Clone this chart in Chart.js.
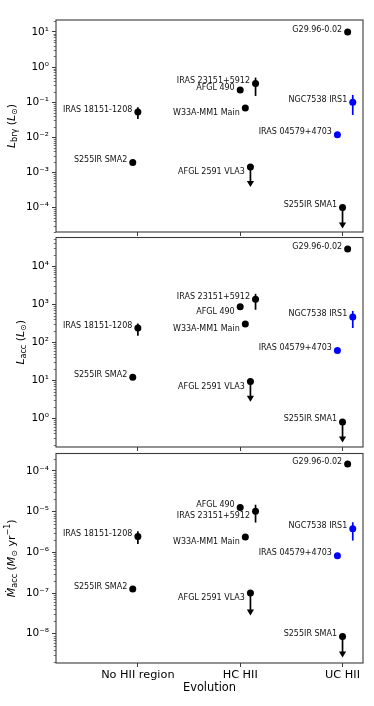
<!DOCTYPE html>
<html><head><meta charset="utf-8">
<script src="https://cdn.jsdelivr.net/npm/chart.js@4.4.1/dist/chart.umd.min.js"></script>
<style>
html,body{margin:0;padding:0;background:#fff;width:374px;height:706px;overflow:hidden;position:relative}
canvas{position:absolute;left:0}
</style></head><body>
<canvas id="c1" style="top:0px;width:374px;height:236px" width="374" height="236"></canvas>
<canvas id="c2" style="top:234px;width:374px;height:217px" width="374" height="217"></canvas>
<canvas id="c3" style="top:450px;width:374px;height:256px" width="374" height="256"></canvas>
<script>
// ---------------- DATA ----------------
const categories = ['No HII region', 'HC HII', 'UC HII'];
const categoryTicks = [1, 2, 3];
const sources = ['S255IR SMA2', 'IRAS 18151-1208', 'AFGL 490', 'W33A-MM1 Main', 'AFGL 2591 VLA3',
                 'IRAS 23151+5912', 'IRAS 04579+4703', 'S255IR SMA1', 'G29.96-0.02', 'NGC7538 IRS1'];
// evolutionary stage (with small dodge as in the figure)
const stage = [0.95, 1.0, 2.0, 2.05, 2.1, 2.15, 2.95, 3.0, 3.05, 3.1];
const sampleGroup = ['a','a','a','a','a','a','b','a','a','b'];   // b = blue sources
const upperLimit = [false,false,false,false,true,false,false,true,false,false];

// L_brgamma (L_sun)
const lbrg      = [0.0019, 0.052, 0.22, 0.068, 0.00143, 0.34, 0.0117, 1.0e-4, 10, 0.10];
const lbrgLo    = [null, 0.033, null, null, null, 0.15, null, null, null, 0.043];
const lbrgHi    = [null, 0.072, null, null, null, 0.50, null, null, null, 0.16];
const lbrgLim   = [null, null, null, null, 0.00038, null, null, 2.5e-5, null, null];

// L_acc (L_sun)
const lacc      = [12, 234, 850, 300, 9.2, 1330, 60, 0.80, 28000, 460];
const laccLo    = [null, 148, null, null, null, 710, null, null, null, 235];
const laccHi    = [null, 310, null, null, null, 1860, null, null, null, 660];
const laccLim   = [null, null, null, null, 2.7, null, null, 0.23, null, null];

// Mdot_acc (M_sun / yr)
const macc      = [1.25e-7, 2.45e-6, 1.27e-5, 2.37e-6, 1.0e-7, 1.02e-5, 8.2e-7, 8.6e-9, 1.48e-4, 3.8e-6];
const maccLo    = [null, 1.6e-6, null, null, null, 5.4e-6, null, null, null, 1.95e-6];
const maccHi    = [null, 3.3e-6, null, null, null, 1.48e-5, null, null, null, 5.5e-6];
const maccLim   = [null, null, null, null, 2.8e-8, null, null, 2.6e-9, null, null];

// axis ranges (log10)
const lbrgRange = [-4.70, 1.34];
const laccRange = [-0.757, 4.75];
const maccRange = [-8.72, -3.57];

// label placement (style): 'u' = beside/above, 'd' = below
const lbrgPlace = ['u','u','u','d','d','u','u','u','u','u'];
const laccPlace = ['u','u','d','d','d','u','u','u','u','u'];
const maccPlace = ['u','u','u','d','d','d','u','u','u','u'];

// ---------------- STYLE / DRAWING ----------------
const COLORS = {a: '#000000', b: '#0000ff'};
const FRAME = '#3a3a3a';
const FONT = 'DejaVu Sans';
const SUP = {'0':'⁰','1':'¹','2':'²','3':'³','4':'⁴','5':'⁵','6':'⁶','7':'⁷','8':'⁸','9':'⁹','-':'⁻'};
function powLabel(v){
  const n = Math.round(Math.log10(v));
  return '10' + String(n).split('').map(c => SUP[c]).join('');
}

function drawRich(ctx, segs, bx, cy){
  const main = 11, small = 8;
  const fontOf = s => (s.it ? 'italic ' : '') + ((s.sub || s.sup) ? small : main) + 'px "' + FONT + '"';
  let total = 0;
  segs.forEach(s => { ctx.font = fontOf(s); s.w = ctx.measureText(s.t).width; total += s.w; });
  ctx.save();
  ctx.translate(bx, cy);
  ctx.rotate(-Math.PI/2);
  ctx.fillStyle = '#000';
  ctx.textBaseline = 'alphabetic';
  ctx.textAlign = 'left';
  let x = -total/2;
  segs.forEach(s => {
    ctx.font = fontOf(s);
    const dy = s.sub ? 2.8 : (s.sup ? -4.2 : 0);
    ctx.fillText(s.t, x, dy);
    x += s.w;
  });
  ctx.restore();
}

function makePanel(id, cfg){
  const n = sources.length;
  const pts = sources.map((s, i) => ({x: stage[i], y: cfg.values[i]}));
  const colors = sampleGroup.map(g => COLORS[g]);

  const panelPlugin = {
    id: 'panel_' + id,
    beforeDatasetsDraw(chart){
      const ctx = chart.ctx, xs = chart.scales.x, ys = chart.scales.y;
      ctx.save();
      for (let i = 0; i < n; i++){
        const px = xs.getPixelForValue(stage[i]);
        const py = ys.getPixelForValue(cfg.values[i]);
        ctx.strokeStyle = colors[i]; ctx.fillStyle = colors[i];
        ctx.lineWidth = 1.7;
        if (cfg.lo[i] !== null){
          ctx.beginPath();
          ctx.moveTo(px, ys.getPixelForValue(cfg.hi[i]));
          ctx.lineTo(px, ys.getPixelForValue(cfg.lo[i]));
          ctx.stroke();
        }
        if (upperLimit[i]){
          const tip = ys.getPixelForValue(cfg.lim[i]);
          ctx.beginPath();
          ctx.moveTo(px, py);
          ctx.lineTo(px, tip - 4);
          ctx.stroke();
          ctx.beginPath();
          ctx.moveTo(px - 3.6, tip - 6);
          ctx.lineTo(px + 3.6, tip - 6);
          ctx.lineTo(px, tip);
          ctx.closePath();
          ctx.fill();
        }
      }
      ctx.restore();
    },
    afterDatasetsDraw(chart){
      const ctx = chart.ctx, xs = chart.scales.x, ys = chart.scales.y;
      ctx.save();
      ctx.font = '8px "' + FONT + '"';
      ctx.fillStyle = '#111';
      ctx.textAlign = 'right';
      ctx.textBaseline = 'middle';
      for (let i = 0; i < n; i++){
        const px = xs.getPixelForValue(stage[i]);
        const py = ys.getPixelForValue(cfg.values[i]);
        const dy = cfg.place[i] === 'd' ? 5 : -2.5;
        ctx.fillText(sources[i], px - 5.5, py + dy);
      }
      ctx.restore();
    },
    afterDraw(chart){
      const ctx = chart.ctx, a = chart.chartArea, ys = chart.scales.y;
      ctx.save();
      // minor ticks
      ctx.strokeStyle = FRAME; ctx.lineWidth = 0.7;
      const lo = Math.floor(cfg.range[0]), hi = Math.ceil(cfg.range[1]);
      for (let e = lo; e <= hi; e++){
        for (let m = 2; m <= 9; m++){
          const v = m * Math.pow(10, e);
          if (v < ys.min || v > ys.max) continue;
          const p = Math.round(ys.getPixelForValue(v)) + 0.5;
          ctx.beginPath(); ctx.moveTo(a.left - 2.3, p); ctx.lineTo(a.left, p); ctx.stroke();
        }
      }
      // frame
      ctx.lineWidth = 1.1;
      ctx.strokeRect(a.left, a.top, a.right - a.left, a.bottom - a.top);
      ctx.restore();
      drawRich(ctx, cfg.title, cfg.titleX, (a.top + a.bottom) / 2);
    }
  };

  return new Chart(document.getElementById(id), {
    type: 'scatter',
    data: {datasets: [{
      data: pts,
      pointBackgroundColor: colors,
      pointBorderWidth: 0,
      pointBorderColor: colors,
      pointRadius: 3.5,
      pointHoverRadius: 3.5
    }]},
    options: {
      responsive: false,
      animation: false,
      devicePixelRatio: 1,
      events: [],
      layout: {padding: {left: 0, right: 11, top: cfg.padTop, bottom: 0}},
      plugins: {legend: {display: false}, tooltip: {enabled: false}},
      scales: {
        x: {
          type: 'linear', min: 0.2, max: 3.2,
          border: {display: false},
          grid: {drawOnChartArea: false, drawTicks: true, tickLength: 4, tickColor: FRAME, tickWidth: 1},
          afterBuildTicks: s => { s.ticks = categoryTicks.map(v => ({value: v})); },
          afterFit: s => { s.height = cfg.xHeight; s.paddingLeft = 0; s.paddingRight = 0; },
          ticks: {
            display: cfg.bottom, padding: 1, color: '#000', autoSkip: false, maxRotation: 0,
            font: {family: FONT, size: 11.3},
            callback: v => categories[categoryTicks.indexOf(v)]
          },
          title: {display: cfg.bottom, text: 'Evolution', color: '#000',
                  font: {family: FONT, size: 11.4}, padding: {top: 0, bottom: 11}}
        },
        y: {
          type: 'logarithmic',
          min: Math.pow(10, cfg.range[0]), max: Math.pow(10, cfg.range[1]),
          border: {display: false},
          grid: {drawOnChartArea: false, drawTicks: true, tickLength: 4, tickColor: FRAME, tickWidth: 1},
          afterBuildTicks: s => {
            const t = [];
            for (let e = Math.ceil(cfg.range[0]); e <= Math.floor(cfg.range[1]); e++) t.push({value: Math.pow(10, e), major: true});
            s.ticks = t;
          },
          afterFit: s => { s.width = 56; s.paddingTop = 0; s.paddingBottom = 0; },
          ticks: {color: '#000', padding: 3, autoSkip: false, font: {family: FONT, size: 10.5},
                  callback: v => powLabel(v)}
        }
      }
    },
    plugins: [panelPlugin]
  });
}

makePanel('c1', {values: lbrg, lo: lbrgLo, hi: lbrgHi, lim: lbrgLim, range: lbrgRange, place: lbrgPlace,
  padTop: 20, xHeight: 4, bottom: false, titleX: 14.5,
  title: [{t:'L',it:1},{t:'brγ',sub:1},{t:' ('},{t:'L',it:1},{t:'⊙',sub:1},{t:')'}]});
makePanel('c2', {values: lacc, lo: laccLo, hi: laccHi, lim: laccLim, range: laccRange, place: laccPlace,
  padTop: 2, xHeight: 4, bottom: false, titleX: 23.5,
  title: [{t:'L',it:1},{t:'acc',sub:1},{t:' ('},{t:'L',it:1},{t:'⊙',sub:1},{t:')'}]});
makePanel('c3', {values: macc, lo: maccLo, hi: maccHi, lim: maccLim, range: maccRange, place: maccPlace,
  padTop: 3, xHeight: 43, bottom: true, titleX: 14.5,
  title: [{t:'Ṁ',it:1},{t:'acc',sub:1},{t:' ('},{t:'M',it:1},{t:'⊙',sub:1},{t:' yr'},{t:'−1',sup:1},{t:')'}]});
</script>
</body></html>
